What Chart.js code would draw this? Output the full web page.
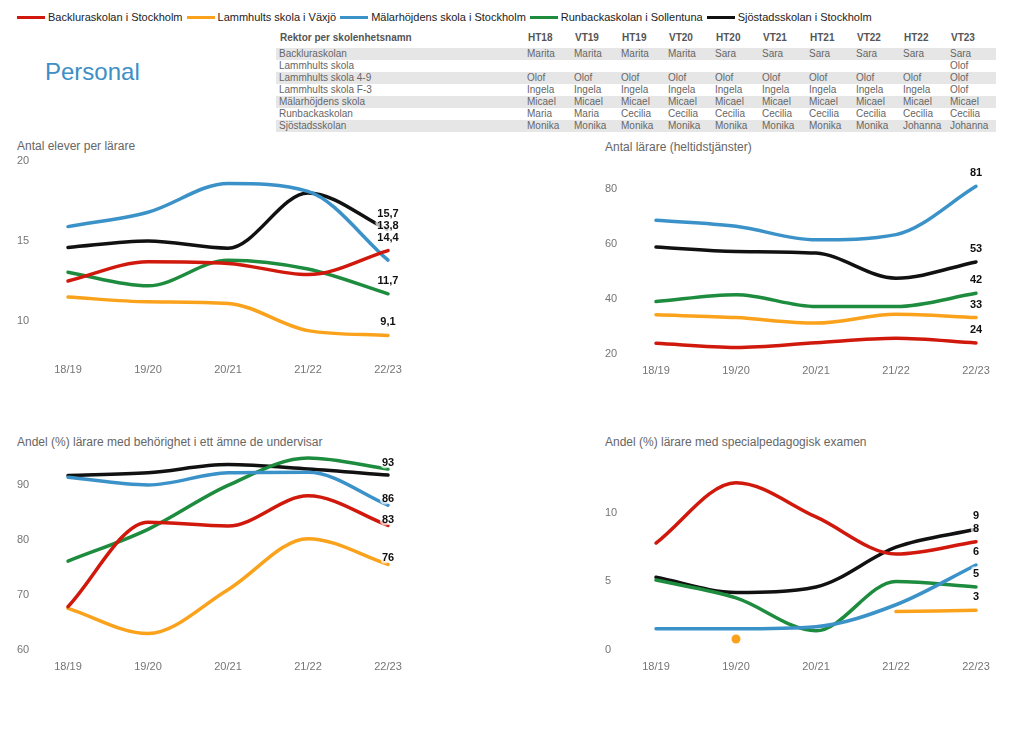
<!DOCTYPE html>
<html>
<head>
<meta charset="utf-8">
<script src="https://cdn.jsdelivr.net/npm/chart.js@4"></script>
<style>
  body { margin: 0; background: #fff; font-family: "Liberation Sans", Arial, sans-serif; }
  #page { position: relative; width: 1024px; height: 733px; overflow: hidden; }
  .legend { position: absolute; left: 17px; top: 11px; display: flex; font-size: 11px; color: #222; white-space: nowrap; }
  .legend span.item { display: flex; align-items: center; margin-right: 4px; }
  .legend i { display: inline-block; width: 28px; height: 3px; margin-right: 3px; }
  .big { position: absolute; left: 45px; top: 58px; font-size: 24px; color: #3d8fc6; }
  .title { position: absolute; font-size: 12px; color: #666; white-space: nowrap; }
  .box { position: absolute; }
  table { position: absolute; left: 276px; top: 29px; border-collapse: collapse; font-size: 10px; color: #666; table-layout: fixed; }
  th { font-weight: bold; color: #555; height: 17px; padding: 0 0 2px 4px; text-align: left; vertical-align: middle; }
  td { height: 12px; padding: 0 0 0 3px; line-height: 12px; white-space: nowrap; overflow: hidden; }
  tbody tr:nth-child(odd) td { background: #e6e6e6; }
</style>
</head>
<body>
<div id="page">
  <div class="legend" id="legend"></div>
  <div class="big">Personal</div>
  <table id="rektor"></table>

  <div class="title" style="left:17px;top:139px">Antal elever per lärare</div>
  <div class="box" style="left:0;top:151px;width:420px;height:222px"><canvas id="c1"></canvas></div>

  <div class="title" style="left:605px;top:140px">Antal lärare (heltidstjänster)</div>
  <div class="box" style="left:588px;top:151px;width:420px;height:223px"><canvas id="c2"></canvas></div>

  <div class="title" style="left:17px;top:435px">Andel (%) lärare med behörighet i ett ämne de undervisar</div>
  <div class="box" style="left:0;top:448px;width:420px;height:222px"><canvas id="c3"></canvas></div>

  <div class="title" style="left:605px;top:435px">Andel (%) lärare med specialpedagogisk examen</div>
  <div class="box" style="left:588px;top:448px;width:420px;height:222px"><canvas id="c4"></canvas></div>
</div>
<script>
// --- data ---
const years = ['18/19', '19/20', '20/21', '21/22', '22/23'];
const schools = ['Backluraskolan i Stockholm', 'Lammhults skola i Växjö', 'Mälarhöjdens skola i Stockholm',
  'Runbackaskolan i Sollentuna', 'Sjöstadsskolan i Stockholm'];

// Antal elever per lärare
const eleverBacklura = [12.5, 13.7, 13.6, 12.9, 14.4];
const eleverLammhult = [11.5, 11.2, 11.1, 9.4, 9.1];
const eleverMalarhojd = [15.9, 16.8, 18.6, 18.1, 13.8];
const eleverRunbacka = [13.05, 12.2, 13.8, 13.25, 11.7];
const eleverSjostad = [14.6, 15.0, 14.55, 18.0, 15.7];
const eleverTicks = [10, 15, 20];

// Antal lärare (heltidstjänster)
const lararBacklura = [23.9, 22.4, 24.1, 25.7, 24];
const lararLammhult = [34.2, 33.2, 31.2, 34.4, 33.2];
const lararMalarhojd = [68.5, 66.3, 61.4, 63.3, 80.8];
const lararRunbacka = [39.0, 41.5, 37.2, 37.2, 42];
const lararSjostad = [58.8, 57.2, 56.6, 47.5, 53.4];
const lararTicks = [20, 40, 60, 80];

// Andel (%) behöriga
const behBacklura = [67.9, 83.3, 82.6, 88.1, 82.7];
const behLammhult = [67.6, 63.0, 71.0, 80.3, 75.6];
const behMalarhojd = [91.5, 90.1, 92.3, 92.4, 86.4];
const behRunbacka = [76.2, 82.0, 90.0, 95.0, 93.0];
const behSjostad = [91.8, 92.3, 93.8, 93.0, 91.9];
const behTicks = [60, 70, 80, 90];

// Andel (%) specialpedagogisk examen
const specBacklura = [7.8, 12.2, 9.7, 7.0, 7.9];
const specLammhult = [null, 0.8, null, 2.8, 2.9];
const specMalarhojd = [1.55, 1.55, 1.7, 3.3, 6.2];
const specRunbacka = [5.1, 3.8, 1.4, 5.0, 4.6];
const specSjostad = [5.3, 4.2, 4.6, 7.5, 8.8];
const specTicks = [0, 5, 10];

// Rektor per skolenhetsnamn
const terms = ['HT18', 'VT19', 'HT19', 'VT20', 'HT20', 'VT21', 'HT21', 'VT22', 'HT22', 'VT23'];
const units = ['Backluraskolan', 'Lammhults skola', 'Lammhults skola 4-9', 'Lammhults skola F-3',
  'Mälarhöjdens skola', 'Runbackaskolan', 'Sjöstadsskolan'];
const rektorer = [
  ['Marita', 'Marita', 'Marita', 'Marita', 'Sara', 'Sara', 'Sara', 'Sara', 'Sara', 'Sara'],
  ['', '', '', '', '', '', '', '', '', 'Olof'],
  ['Olof', 'Olof', 'Olof', 'Olof', 'Olof', 'Olof', 'Olof', 'Olof', 'Olof', 'Olof'],
  ['Ingela', 'Ingela', 'Ingela', 'Ingela', 'Ingela', 'Ingela', 'Ingela', 'Ingela', 'Ingela', 'Olof'],
  ['Micael', 'Micael', 'Micael', 'Micael', 'Micael', 'Micael', 'Micael', 'Micael', 'Micael', 'Micael'],
  ['Maria', 'Maria', 'Cecilia', 'Cecilia', 'Cecilia', 'Cecilia', 'Cecilia', 'Cecilia', 'Cecilia', 'Cecilia'],
  ['Monika', 'Monika', 'Monika', 'Monika', 'Monika', 'Monika', 'Monika', 'Monika', 'Johanna', 'Johanna']
];

const colors = ['#d0190c', '#fba21c', '#3b92c8', '#1e8c3e', '#111111'];

// --- legend + table ---
const legend = document.getElementById('legend');
schools.forEach((s, i) => {
  const el = document.createElement('span');
  el.className = 'item';
  el.innerHTML = '<i style="background:' + colors[i] + '"></i>' + s;
  legend.appendChild(el);
});

const table = document.getElementById('rektor');
let html = '<colgroup><col style="width:248px">';
terms.forEach((t, i) => { html += '<col style="width:' + (i === terms.length - 1 ? 49 : 47) + 'px">'; });
html += '</colgroup><thead><tr><th>Rektor per skolenhetsnamn</th>';
terms.forEach(t => { html += '<th>' + t + '</th>'; });
html += '</tr></thead><tbody>';
units.forEach((u, r) => {
  html += '<tr><td>' + u + '</td>';
  rektorer[r].forEach(n => { html += '<td>' + n + '</td>'; });
  html += '</tr>';
});
table.innerHTML = html + '</tbody>';

// --- charts ---
Chart.defaults.font.family = '"Liberation Sans", Arial, sans-serif';
Chart.defaults.color = '#757575';

const endLabels = {
  id: 'endLabels',
  afterDatasetsDraw(chart, args, opts) {
    const ctx = chart.ctx;
    const placed = [];
    ctx.save();
    ctx.font = 'bold 11px "Liberation Sans", Arial, sans-serif';
    ctx.textAlign = 'center';
    ctx.textBaseline = 'middle';
    chart.data.datasets.forEach((ds, i) => {
      const last = ds.data.length - 1;
      const v = ds.data[last];
      if (v == null) return;
      const pt = chart.getDatasetMeta(i).data[last];
      let y = pt.y - opts.offset;
      let moved = true;
      while (moved) {
        moved = false;
        placed.forEach(p => {
          if (Math.abs(p - y) < 12) { y = p - 12; moved = true; }
        });
      }
      if (y < chart.chartArea.top) return;
      placed.push(y);
      const txt = v.toFixed(opts.decimals).replace('.', ',');
      ctx.lineJoin = 'round';
      ctx.lineWidth = 5;
      ctx.strokeStyle = 'rgba(255,255,255,0.7)';
      ctx.strokeText(txt, pt.x, y);
      ctx.fillStyle = '#111';
      ctx.fillText(txt, pt.x, y);
    });
    ctx.restore();
  }
};

function makeChart(id, series, min, max, ticks, decimals, offset) {
  const datasets = series.map((d, i) => ({
    label: schools[i],
    data: d,
    borderColor: colors[i],
    backgroundColor: colors[i],
    borderWidth: 3.5,
    borderCapStyle: 'round',
    cubicInterpolationMode: 'monotone',
    spanGaps: false,
    clip: 10,
    pointRadius: (c) => {
      const a = c.dataset.data, k = c.dataIndex;
      return a[k] != null && a[k - 1] == null && a[k + 1] == null ? 4.5 : 0;
    },
    pointBorderWidth: 0,
    pointHoverRadius: 0
  }));
  return new Chart(document.getElementById(id), {
    type: 'line',
    data: { labels: years, datasets: datasets },
    options: {
      responsive: true,
      maintainAspectRatio: false,
      animation: false,
      layout: { padding: { top: 10, left: 17, right: 32, bottom: 0 } },
      plugins: {
        legend: { display: false },
        tooltip: { enabled: false },
        endLabels: { decimals: decimals, offset: offset }
      },
      scales: {
        x: {
          grid: { display: false },
          border: { display: false },
          ticks: { font: { size: 11 }, padding: 2, maxRotation: 0 },
          afterFit: (s) => { s.height = 20; }
        },
        y: {
          min: min,
          max: max,
          grid: { display: false },
          border: { display: false },
          ticks: { font: { size: 11 }, crossAlign: 'far', padding: 0 },
          afterBuildTicks: (s) => { s.ticks = ticks.map(v => ({ value: v })); },
          afterFit: (s) => { s.width = 51; }
        }
      }
    },
    plugins: [endLabels]
  });
}

makeChart('c1', [eleverBacklura, eleverLammhult, eleverMalarhojd, eleverRunbacka, eleverSjostad], 8, 20, eleverTicks, 1, 13);
makeChart('c2', [lararBacklura, lararLammhult, lararMalarhojd, lararRunbacka, lararSjostad], 20, 90, lararTicks, 0, 13);
makeChart('c3', [behBacklura, behLammhult, behMalarhojd, behRunbacka, behSjostad], 60, 95, behTicks, 0, 6);
makeChart('c4', [specBacklura, specLammhult, specMalarhojd, specRunbacka, specSjostad], 0, 14, specTicks, 0, 13);
</script>
</body>
</html>
